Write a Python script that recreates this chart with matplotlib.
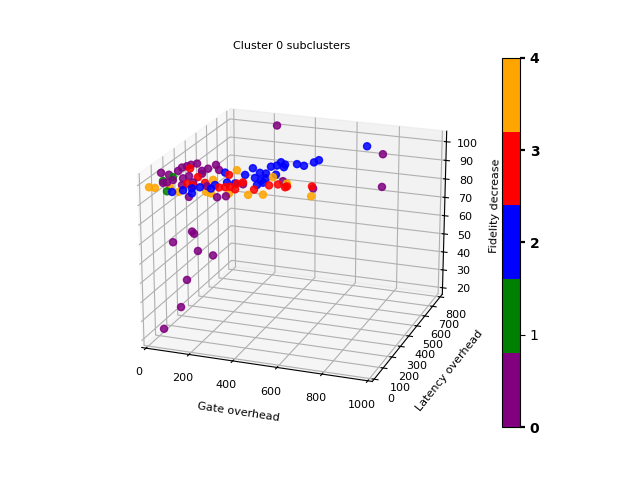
import matplotlib
matplotlib.use('Agg')
import matplotlib.pyplot as plt
from matplotlib.cm import ScalarMappable
from matplotlib.colors import ListedColormap, Normalize
import numpy as np

palette = ['purple', 'green', 'blue', 'red', 'orange']

gate_c4 = [1, 17, 65, 132, 223, 219, 236, 186, 308, 419, 476, 414, 501, 689]
lat_c4 = [40, 60, 100, 50, 400, 120, 130, 250, 150, 100, 120, 350, 300, 120]
fid_c4 = [97, 96, 95, 96, 93, 94, 93, 94, 93, 96, 96, 94, 94, 98]

gate_c1 = [72, 33, 52]
lat_c1 = [60, 100, 150]
fid_c1 = [95, 98, 98]

gate_c0 = [365, 25, 34, 44, 57, 68, 50, 58, 60, 69, 87, 135, 138, 150, 179, 161, 99, 120, 111,
           150, 177, 289, 319, 348, 224, 483, 851, 849, 663, 183, 192, 73, 177, 231, 150, 109, 43]
lat_c0 = [500, 100, 150, 80, 90, 120, 200, 220, 260, 280, 300, 250, 300, 350, 320, 200, 150, 100, 180,
          140, 50, 80, 100, 200, 120, 300, 500, 500, 200, 60, 60, 100, 120, 150, 70, 90, 60]
fid_c0 = [114, 102, 99, 98, 98, 98, 99, 100, 99, 99, 99, 98, 97, 97, 96, 99, 98, 97, 98,
          97, 94, 94, 94, 96, 97, 95, 105, 88, 98, 76, 75, 67, 63, 60, 50, 34, 23]

gate_c2 = [106, 151, 186, 191, 212, 252, 217, 302, 285, 250, 300, 298, 355, 388, 340, 359, 373, 382,
           401, 396, 345, 364, 374, 393, 401, 440, 477, 502, 521, 700]
lat_c2 = [40, 50, 60, 50, 80, 100, 300, 220, 180, 140, 320, 400, 300, 250, 380, 400, 320, 350,
          280, 420, 480, 500, 520, 520, 490, 540, 530, 580, 590, 700]
fid_c2 = [96, 97, 98, 96, 98, 97, 96, 95, 97, 97, 95, 95, 95, 94, 94, 93, 93, 93,
          94, 92, 93, 93, 94, 93, 93, 93, 93, 93, 94, 99]

gate_c3 = [106, 245, 152, 143, 165, 210, 278, 301, 318, 351, 331, 348, 436, 466, 497, 547, 551, 658]
lat_c3 = [200, 280, 180, 100, 110, 130, 120, 130, 140, 120, 180, 200, 120, 200, 220, 180, 190, 200]
fid_c3 = [101, 96, 98, 98, 97, 98, 97, 97, 97, 97, 97, 97, 98, 97, 97, 98, 98, 99]

gate_ticks = [0, 200, 400, 600, 800, 1000]
lat_ticks = [0, 100, 200, 300, 400, 500, 600, 700, 800]
fid_ticks = [20, 30, 40, 50, 60, 70, 80, 90, 100]
cbar_ticks = [0, 1, 2, 3, 4]
cbar_heavy_ticks = [0, 2, 3, 4]

gate = gate_c0 + gate_c1 + gate_c2 + gate_c3 + gate_c4
lat = lat_c0 + lat_c1 + lat_c2 + lat_c3 + lat_c4
fid = fid_c0 + fid_c1 + fid_c2 + fid_c3 + fid_c4
cluster = [0] * len(gate_c0) + [1] * len(gate_c1) + [2] * len(gate_c2) + [3] * len(gate_c3) + [4] * len(gate_c4)

fig = plt.figure(figsize=(6.4, 4.8), dpi=100)
ax = fig.add_subplot(111, projection='3d')
cmap = ListedColormap(palette)
norm = Normalize(vmin=0, vmax=4)
ax.scatter(gate, lat, fid, c=cluster, cmap=cmap, norm=norm, s=26, depthshade=False, alpha=0.85)
ax.view_init(elev=20, azim=-70)
ax.set_xlabel('Gate overhead', fontsize=8)
ax.set_ylabel('Latency overhead', fontsize=8)
ax.set_zlabel('Fidelity decrease', fontsize=8)
ax.set_title('Cluster 0 subclusters', fontsize=8)
ax.set_xlim(-20, 1020)
ax.set_ylim(-20, 830)
ax.set_zlim(16.4, 105.6)
ax.set_xticks(gate_ticks)
ax.set_yticks(lat_ticks)
ax.set_zticks(fid_ticks)
ax.tick_params(labelsize=8, pad=2)
cb = fig.colorbar(ScalarMappable(norm=norm, cmap=cmap), ax=ax, ticks=cbar_ticks)
fig.canvas.draw()
for tick, value in zip(cb.ax.yaxis.get_major_ticks(), cbar_ticks):
    if value in cbar_heavy_ticks:
        tick.label2.set_fontweight('bold')
        tick.tick2line.set_markeredgewidth(1.6)
fig.savefig('out.png', dpi=100)
